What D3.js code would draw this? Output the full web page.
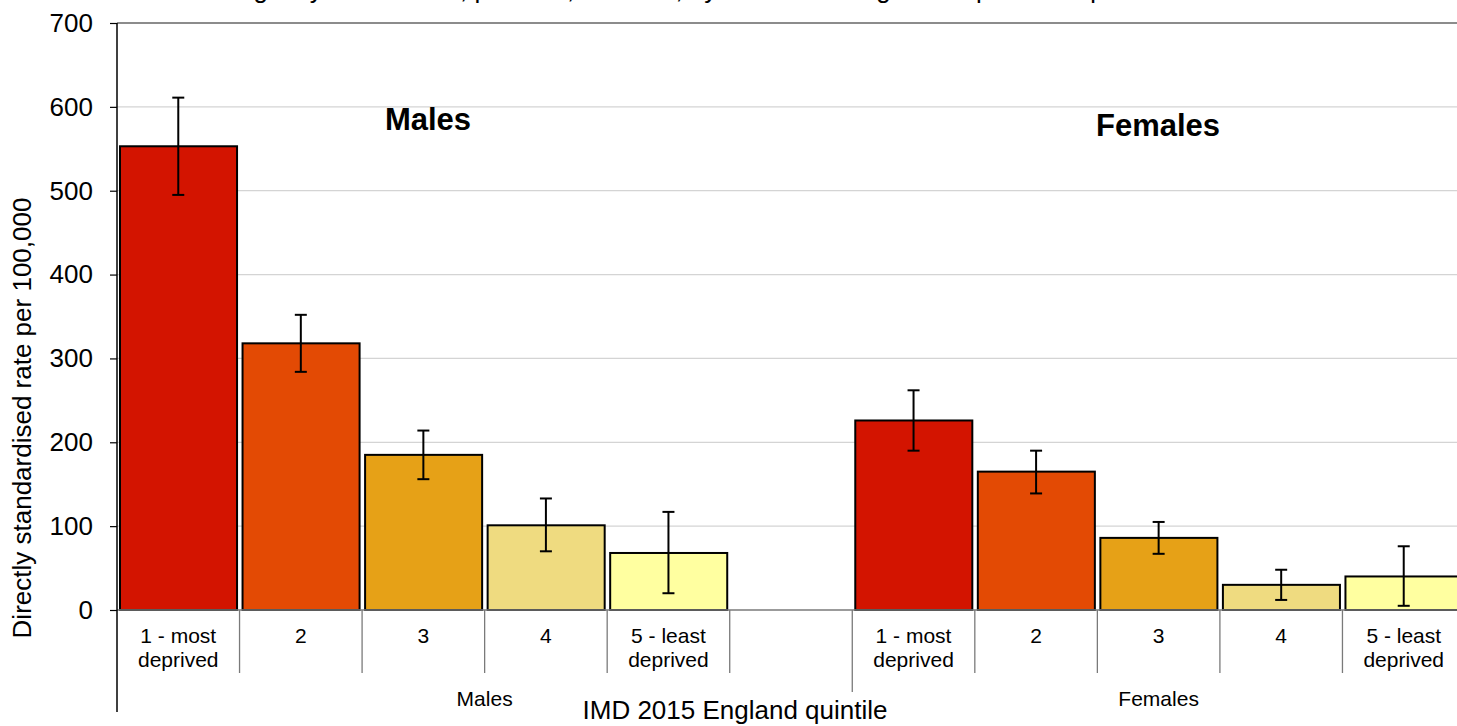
<!DOCTYPE html>
<html>
<head>
<meta charset="utf-8">
<script src="https://cdn.jsdelivr.net/npm/d3@7"></script>
<style>
  html, body { margin: 0; padding: 0; background: #fff; overflow: hidden; }
  svg { display: block; font-family: "Liberation Sans", Arial, sans-serif; }
</style>
</head>
<body>
<svg id="chart" width="1457" height="726"></svg>
<script>
// Quintile categories and sex groups
const quintiles = ["1 - most deprived", "2", "3", "4", "5 - least deprived"];
const groups = ["Males", "Females"];

// Directly standardised rates per 100,000 with 95% confidence limits
const maleRate  = [553, 318, 185, 101, 68];
const maleLower = [495, 284, 156, 70, 20];
const maleUpper = [611, 352, 214, 133, 117];

const femaleRate  = [226, 165, 86, 30, 40];
const femaleLower = [190, 139, 67, 12, 5];
const femaleUpper = [262, 190, 105, 48, 76];

const yTicks = [0, 100, 200, 300, 400, 500, 600, 700];

const quintileColours = ["#D31400", "#E34A04", "#E6A117", "#EFDB80", "#FFFFA0"];

// Slots along the category axis: five male quintiles, one empty slot, five female quintiles
const slots = [];
quintiles.forEach((q, i) => slots.push({ key: "M" + i, group: "Males", label: q, i,
  rate: maleRate[i], lo: maleLower[i], hi: maleUpper[i] }));
slots.push({ key: "M-gap", group: "Males", label: "", i: -1 });
quintiles.forEach((q, i) => slots.push({ key: "F" + i, group: "Females", label: q, i,
  rate: femaleRate[i], lo: femaleLower[i], hi: femaleUpper[i] }));

const svg = d3.select("#chart");
const plotLeft = 117, plotRight = 1465, plotTop = 23, plotBottom = 610;

const x = d3.scaleBand().domain(slots.map(d => d.key)).range([plotLeft, plotRight]).padding(0);
const y = d3.scaleLinear().domain([0, 700]).range([plotBottom, plotTop]);
const bw = x.bandwidth();

// Horizontal gridlines
svg.append("g").selectAll("line")
  .data(yTicks.filter(t => t > 0 && t < 700))
  .join("line")
  .attr("x1", plotLeft).attr("x2", plotRight)
  .attr("y1", d => y(d)).attr("y2", d => y(d))
  .attr("stroke", "#D4D4D4").attr("stroke-width", 1.2);

// Top border of the plot area
svg.append("line")
  .attr("x1", plotLeft).attr("x2", plotRight)
  .attr("y1", y(700)).attr("y2", y(700))
  .attr("stroke", "#8C8C8C").attr("stroke-width", 2);

// Bars
const barSlots = slots.filter(d => d.i >= 0);
svg.append("g").selectAll("rect")
  .data(barSlots)
  .join("rect")
  .attr("x", d => x(d.key) + 3)
  .attr("width", bw - 5.5)
  .attr("y", d => y(d.rate))
  .attr("height", d => y(0) - y(d.rate))
  .attr("fill", d => quintileColours[d.i])
  .attr("stroke", "#000").attr("stroke-width", 2);

// Error bars
const eb = svg.append("g").attr("stroke", "#000").attr("stroke-width", 2);
barSlots.forEach(d => {
  const cx = x(d.key) + bw / 2;
  eb.append("line").attr("x1", cx).attr("x2", cx).attr("y1", y(d.hi)).attr("y2", y(d.lo));
  eb.append("line").attr("x1", cx - 6).attr("x2", cx + 6).attr("y1", y(d.hi)).attr("y2", y(d.hi));
  eb.append("line").attr("x1", cx - 6).attr("x2", cx + 6).attr("y1", y(d.lo)).attr("y2", y(d.lo));
});

// Zero baseline
svg.append("line")
  .attr("x1", plotLeft).attr("x2", plotRight)
  .attr("y1", y(0)).attr("y2", y(0))
  .attr("stroke", "#7A7A7A").attr("stroke-width", 1.5);

// Y axis
const yAxis = d3.axisLeft(y).tickValues(yTicks).tickSize(7).tickPadding(17);
const yg = svg.append("g").attr("transform", `translate(${plotLeft},0)`).call(yAxis);
yg.select(".domain").remove();
yg.selectAll(".tick line").attr("stroke", "#000").attr("stroke-width", 1.2);
yg.selectAll(".tick text")
  .attr("font-size", 26).attr("fill", "#000")
  .attr("font-family", "Liberation Sans, Arial, sans-serif");
svg.append("line")
  .attr("x1", plotLeft).attr("x2", plotLeft)
  .attr("y1", plotTop).attr("y2", 712)
  .attr("stroke", "#000").attr("stroke-width", 1.5);

// Category tick marks between slots
const boundaries = slots.map(d => x(d.key)).concat([plotRight]);
svg.append("g").selectAll("line")
  .data(boundaries.slice(1))
  .join("line")
  .attr("x1", d => d).attr("x2", d => d)
  .attr("y1", plotBottom).attr("y2", (d, i) => i === 5 ? 692 : 673)
  .attr("stroke", "#7A7A7A").attr("stroke-width", 1.3);

// Category labels (two lines)
const cat = svg.append("g").attr("font-size", 21).attr("text-anchor", "middle").attr("fill", "#000");
barSlots.forEach(d => {
  const cx = x(d.key) + bw / 2;
  const parts = d.label.includes(" - ")
    ? [d.label.split(" ").slice(0, 3).join(" "), d.label.split(" ").slice(3).join(" ")]
    : [d.label];
  const t = cat.append("text").attr("x", cx).attr("y", 643);
  parts.forEach((p, k) => t.append("tspan").attr("x", cx).attr("dy", k === 0 ? 0 : 24).text(p));
});

// Group labels under the categories
groups.forEach(g => {
  const gs = slots.filter(d => d.group === g);
  const x0 = x(gs[0].key), x1 = x(gs[gs.length - 1].key) + bw;
  svg.append("text")
    .attr("x", (x0 + x1) / 2).attr("y", 706)
    .attr("text-anchor", "middle").attr("font-size", 21)
    .text(g);
});

// Bold group annotations inside the plot
svg.append("text").attr("x", 428).attr("y", 130)
  .attr("text-anchor", "middle").attr("font-size", 31).attr("font-weight", "bold")
  .text(groups[0]);
svg.append("text").attr("x", 1158).attr("y", 136)
  .attr("text-anchor", "middle").attr("font-size", 31).attr("font-weight", "bold")
  .text(groups[1]);

// Axis titles
svg.append("text")
  .attr("transform", "translate(31,418) rotate(-90)")
  .attr("text-anchor", "middle").attr("font-size", 26)
  .text("Directly standardised rate per 100,000");
svg.append("text")
  .attr("x", 735).attr("y", 719)
  .attr("text-anchor", "middle").attr("font-size", 26)
  .text("IMD 2015 England quintile");

// Chart title (sits above the visible area)
svg.append("text")
  .attr("x", 1164).attr("y", -2)
  .attr("text-anchor", "end").attr("font-size", 26)
  .text("Emergency admissions, persons, 2014/15, by IMD 2015 England deprivation quintile");
</script>
</body>
</html>
